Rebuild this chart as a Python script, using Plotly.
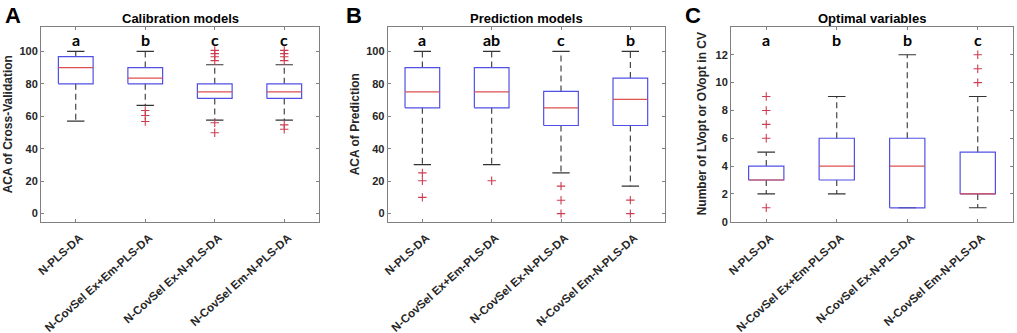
import plotly.graph_objects as go

# ---------------- data ----------------
categories = ["N-PLS-DA", "N-CovSel Ex+Em-PLS-DA", "N-CovSel Ex-N-PLS-DA", "N-CovSel Em-N-PLS-DA"]

cal_q1 = [80, 80, 71, 71]
cal_med = [90, 83.5, 75, 75]
cal_q3 = [96.7, 90, 80, 80]
cal_low = [57, 66.7, 57.6, 57.6]
cal_high = [100, 100, 91.7, 91.7]
cal_out = [[], [63.5, 60.5, 56.8], [100.6, 98.6, 96.7, 94.3, 56, 49.8], [100.6, 98.6, 96.7, 94.3, 54.7, 52]]
cal_letters = ["a", "b", "c", "c"]

pred_q1 = [65.2, 65.2, 54.3, 54.3]
pred_med = [75, 75, 65.2, 70.4]
pred_q3 = [90, 90, 75.3, 83.5]
pred_low = [30.2, 30.2, 25.1, 16.9]
pred_high = [100, 100, 100, 100]
pred_out = [[25.1, 20.2, 10], [20.2], [16.9, 8.2, 0], [8.3, 0]]
pred_letters = ["a", "ab", "c", "b"]

opt_q1 = [3, 3, 1, 2]
opt_med = [3, 4, 4, 2]
opt_q3 = [4, 6, 6, 5]
opt_low = [2, 2, 1, 1]
opt_high = [5, 9, 12, 9]
opt_out = [[9, 8, 7, 6, 1], [], [], [12, 11, 10]]
opt_letters = ["a", "b", "b", "c"]

panels = [
    dict(label="A", title="Calibration models", ytitle="ACA of Cross-Validation",
         q1=cal_q1, med=cal_med, q3=cal_q3, low=cal_low, high=cal_high, out=cal_out,
         letters=cal_letters, yrange=[-5, 115], ytickvals=[0, 20, 40, 60, 80, 100], letter_y=107),
    dict(label="B", title="Prediction models", ytitle="ACA of Prediction",
         q1=pred_q1, med=pred_med, q3=pred_q3, low=pred_low, high=pred_high, out=pred_out,
         letters=pred_letters, yrange=[-5, 115], ytickvals=[0, 20, 40, 60, 80, 100], letter_y=107.5),
    dict(label="C", title="Optimal variables", ytitle="Number of LVopt or OVopt in CV",
         q1=opt_q1, med=opt_med, q3=opt_q3, low=opt_low, high=opt_high, out=opt_out,
         letters=opt_letters, yrange=[0, 14], ytickvals=[0, 2, 4, 6, 8, 10, 12], letter_y=13.1),
]

# ---------------- layout geometry (pixels) ----------------
W, H = 1017, 333
plot_x = [(41, 319), (387.7, 665), (731, 1013)]
plot_top, plot_bot = 27, 221.7
ytitle_x = [8, 355, 702]
label_x = [3, 344, 683]

BOX_HALF = 0.25
CAP_HALF = 0.125
BLUE = "rgb(80,80,230)"
RED = "rgb(220,80,80)"
OUT = "rgb(205,60,80)"
GRID = "#808080"
TXT = "#262626"
FONT = "Liberation Sans, Arial, sans-serif"

fig = go.Figure()
annotations = []

for i, p in enumerate(panels):
    xa = "x" if i == 0 else f"x{i+1}"
    ya = "y" if i == 0 else f"y{i+1}"
    n = len(categories)
    xs = list(range(n))

    # whiskers (dashed)
    wx, wy = [], []
    for k in xs:
        wx += [k, k, None, k, k, None]
        wy += [p["q3"][k], p["high"][k], None, p["q1"][k], p["low"][k], None]
    fig.add_trace(go.Scatter(x=wx, y=wy, mode="lines", xaxis=xa, yaxis=ya,
                             line=dict(color="#333333", width=1.1, dash="6px,4px"),
                             hoverinfo="skip", showlegend=False))
    # caps
    cx, cy = [], []
    for k in xs:
        for v in (p["high"][k], p["low"][k]):
            cx += [k - CAP_HALF, k + CAP_HALF, None]
            cy += [v, v, None]
    fig.add_trace(go.Scatter(x=cx, y=cy, mode="lines", xaxis=xa, yaxis=ya,
                             line=dict(color="#333333", width=1.1),
                             hoverinfo="skip", showlegend=False))
    # boxes
    bx, by = [], []
    for k in xs:
        bx += [k - BOX_HALF, k + BOX_HALF, k + BOX_HALF, k - BOX_HALF, k - BOX_HALF, None]
        by += [p["q1"][k], p["q1"][k], p["q3"][k], p["q3"][k], p["q1"][k], None]
    fig.add_trace(go.Scatter(x=bx, y=by, mode="lines", xaxis=xa, yaxis=ya,
                             line=dict(color=BLUE, width=1.2),
                             hoverinfo="skip", showlegend=False))
    # medians
    mx, my = [], []
    for k in xs:
        mx += [k - BOX_HALF, k + BOX_HALF, None]
        my += [p["med"][k], p["med"][k], None]
    fig.add_trace(go.Scatter(x=mx, y=my, mode="lines", xaxis=xa, yaxis=ya,
                             line=dict(color=RED, width=1.2),
                             hoverinfo="skip", showlegend=False))
    # outliers
    ox, oy = [], []
    for k in xs:
        for v in p["out"][k]:
            ox.append(k)
            oy.append(v)
    fig.add_trace(go.Scatter(x=ox, y=oy, mode="markers", xaxis=xa, yaxis=ya,
                             marker=dict(symbol="cross-thin", size=6,
                                         line=dict(color=OUT, width=1.1)),
                             hoverinfo="skip", showlegend=False))

    x0, x1 = plot_x[i]
    xdom = [x0 / W, x1 / W]
    ydom = [1 - plot_bot / H, 1 - plot_top / H]
    axis_common = dict(showline=True, linecolor=GRID, linewidth=1, mirror="ticks",
                       ticks="inside", ticklen=3, tickcolor=GRID, showgrid=False,
                       zeroline=False, automargin=False)
    fig.layout[("xaxis" if i == 0 else f"xaxis{i+1}")] = dict(
        domain=xdom, anchor=ya, range=[-0.5, n - 0.5], tickmode="array",
        tickvals=xs, ticktext=categories, tickangle=-42,
        ticklabelstandoff=4, ticklabelshift=4,
        tickfont=dict(family=FONT, size=11.5, color=TXT, weight="bold"), **axis_common)
    fig.layout[("yaxis" if i == 0 else f"yaxis{i+1}")] = dict(
        domain=ydom, anchor=xa, range=p["yrange"], tickmode="array",
        tickvals=p["ytickvals"],
        tickfont=dict(family=FONT, size=11, color=TXT, weight="bold"), **axis_common)

    # significance letters
    for k in xs:
        annotations.append(dict(x=k, y=p["letter_y"], xref=xa, yref=ya, text=p["letters"][k],
                                showarrow=False, xanchor="center", yanchor="middle",
                                font=dict(family="Lato, Open Sans, sans-serif", size=16,
                                          color="#000000", weight="bold")))
    # panel title
    annotations.append(dict(x=(x0 + x1) / 2 / W, y=1 - 18 / H, xref="paper", yref="paper",
                            text=p["title"], showarrow=False, xanchor="center", yanchor="middle",
                            font=dict(family=FONT, size=13, color="#000000", weight="bold")))
    # y title
    annotations.append(dict(x=ytitle_x[i] / W, y=1 - (plot_top + plot_bot) / 2 / H,
                            xref="paper", yref="paper", text=p["ytitle"], textangle=-90,
                            showarrow=False, xanchor="center", yanchor="middle",
                            font=dict(family=FONT, size=12, color=TXT, weight="bold")))
    # panel label
    annotations.append(dict(x=label_x[i] / W, y=1 - 1 / H, xref="paper", yref="paper",
                            text=p["label"], showarrow=False, xanchor="left", yanchor="top",
                            font=dict(family=FONT, size=22, color="#000000", weight="bold")))

fig.update_layout(width=W, height=H, margin=dict(l=0, r=0, t=0, b=0, autoexpand=False),
                  paper_bgcolor="white", plot_bgcolor="white",
                  annotations=annotations, showlegend=False)

page_css = (
    "var h=document.documentElement, b=document.body;"
    "[h,b].forEach(function(e){e.style.margin='0';e.style.padding='0';"
    "e.style.overflow='hidden';e.style.height='333px';});"
)
fig.write_html("out.html", config={"displayModeBar": False}, post_script=page_css)
